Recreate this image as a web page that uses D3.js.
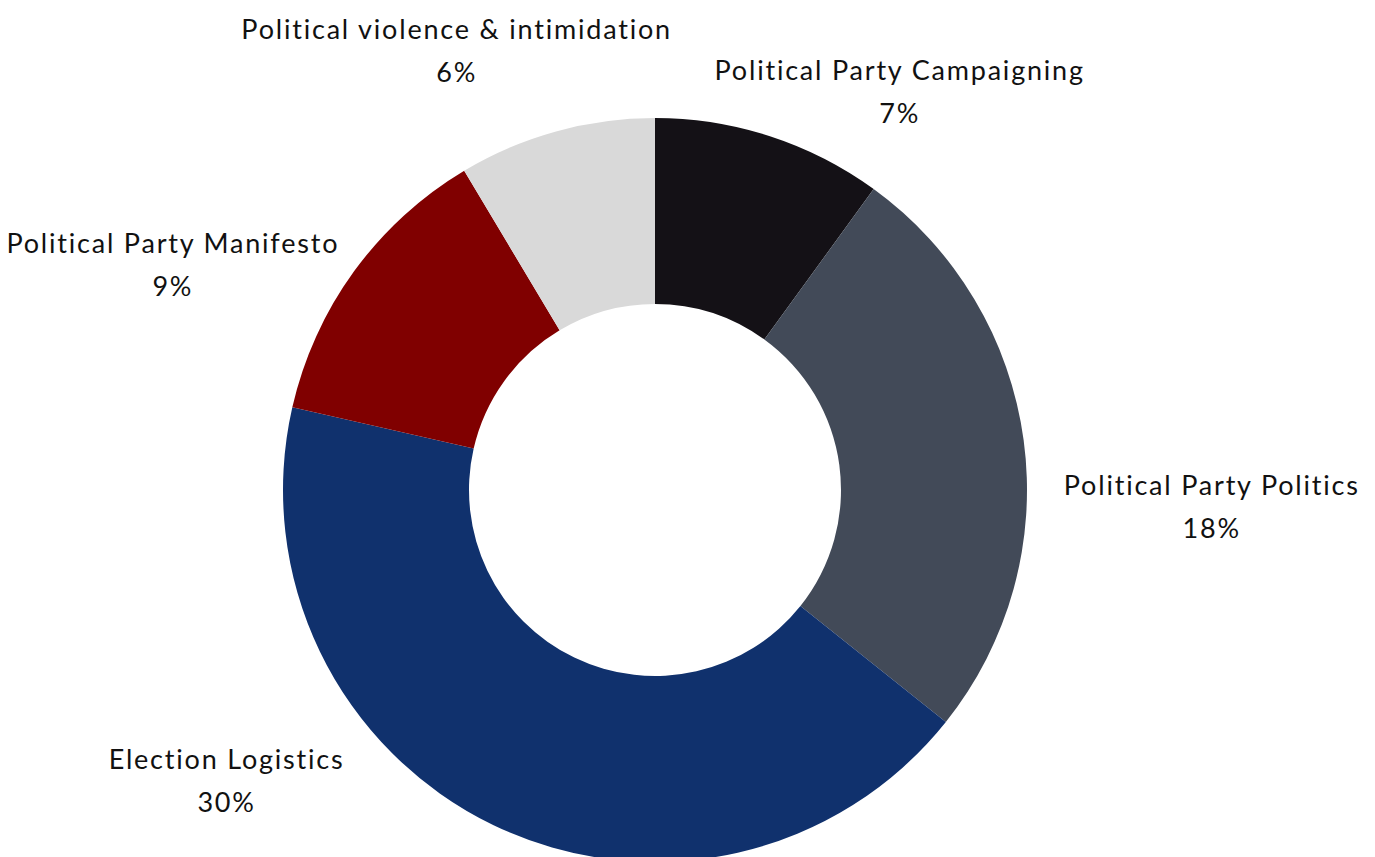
<!DOCTYPE html>
<html>
<head>
<meta charset="utf-8">
<script src="https://cdn.jsdelivr.net/npm/d3@7"></script>
<style>
  html, body { margin: 0; padding: 0; background: #fff; }
  svg { display: block; }
</style>
</head>
<body>
<svg id="chart" width="1375" height="857"></svg>
<script>
// Data, clockwise from 12 o'clock
var categories = ["Political Party Campaigning", "Political Party Politics", "Election Logistics",
                  "Political Party Manifesto", "Political violence & intimidation"];
var values = [7, 18, 30, 9, 6];
var colors = ["#141116", "#424a58", "#10316d", "#800000", "#d9d9d9"];

// Label block centres in polar form (degrees clockwise from top, distance from centre)
var labelAngle = [31.6, 91.7, 235.8, 295.0, 335.7];
var labelDist = [467, 557, 518, 532, 482];

var svg = d3.select("#chart");
var cx = 655, cy = 490;
var outerR = 372, innerR = 186;

var wrapper = svg.append("g")
    .attr("transform", "translate(" + cx + "," + cy + ")");

var pie = d3.pie().sort(null).value(function(d) { return d; });
var arcs = pie(values);
var arc = d3.arc().innerRadius(innerR).outerRadius(outerR);

// Draw slices
wrapper.selectAll("path.slice")
    .data(arcs)
    .enter().append("path")
    .attr("class", "slice")
    .attr("d", arc)
    .style("fill", function(d, i) { return colors[i]; });

// Labels: category name and value
var labelStyle = "font-family:Lato, 'Open Sans', sans-serif;font-size:27px;fill:#111;text-anchor:middle;" +
    "letter-spacing:1.8px;font-variant-ligatures:none;font-feature-settings:'liga' 0";
arcs.forEach(function(d, i) {
    var a = labelAngle[i] * Math.PI / 180;
    var x = Math.sin(a) * labelDist[i];
    var y = -Math.cos(a) * labelDist[i];
    var t = wrapper.append("text").attr("style", labelStyle);
    t.append("tspan").attr("x", x).attr("y", y - 12).text(categories[i]);
    t.append("tspan").attr("x", x).attr("y", y + 31).text(values[i] + "%");
});
</script>
</body>
</html>
